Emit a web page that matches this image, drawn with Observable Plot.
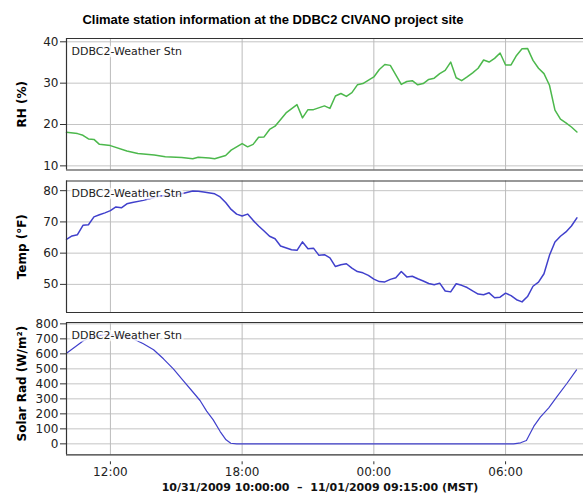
<!DOCTYPE html>
<html><head><meta charset="utf-8">
<script src="https://cdn.jsdelivr.net/npm/d3@7"></script>
<script src="https://cdn.jsdelivr.net/npm/@observablehq/plot@0.6"></script>
<style>
body{margin:0;background:#fff;}
#wrap{position:relative;width:583px;height:493px;overflow:hidden;font-family:"DejaVu Sans",sans-serif;}
#title{position:absolute;top:12px;left:0;width:546px;text-align:center;font:bold 13px "Liberation Sans",Arial,sans-serif;color:#000;line-height:15px;}
.panel{position:absolute;left:0;}
#xlabel{position:absolute;top:481px;left:40px;width:560px;text-align:center;font:bold 11px "DejaVu Sans",sans-serif;color:#111;line-height:13px;white-space:pre;}
</style></head><body>
<div id="wrap">
<div id="title">Climate station information at the DDBC2 CIVANO project site</div>
<div id="p1" class="panel" style="top:30px"></div>
<div id="p2" class="panel" style="top:175px"></div>
<div id="p3" class="panel" style="top:317px"></div>
<div id="xlabel">10/31/2009 10:00:00  –  11/01/2009 09:15:00 (MST)</div>
</div>
<script>
const stationLabel = "DDBC2-Weather Stn";
const xTickLabels = ["12:00", "18:00", "00:00", "06:00"];

const rhTimes = ["10:00","10:30","10:45","11:00","11:15","11:30","12:00","12:45","13:15","14:00","14:30","15:15","15:45","16:00","16:30","16:45","17:15","17:30","18:00","18:15","18:30","18:45","19:00","19:15","19:30","20:00","20:30","20:45","21:00","21:15","21:45","22:00","22:15","22:30","22:45","23:00","23:15","23:30","00:00","00:15","00:30","00:45","01:15","01:30","01:45","02:00","02:15","02:30","02:45","03:00","03:15","03:30","03:45","04:00","04:15","04:30","04:45","05:00","05:15","05:30","05:45","06:00","06:15","06:30","06:45","07:00","07:15","07:30","07:45","08:00","08:15","08:30","08:45","09:00","09:15"];
const rhValues = [18.1,17.8,17.4,16.5,16.4,15.2,14.9,13.6,13.0,12.6,12.2,12.0,11.7,12.1,11.9,11.7,12.5,13.8,15.4,14.6,15.2,16.9,17.0,18.8,19.6,22.8,24.8,21.6,23.6,23.6,24.5,23.9,26.9,27.5,26.8,27.7,29.6,29.9,31.5,33.3,34.5,34.3,29.7,30.4,30.6,29.6,29.9,30.9,31.2,32.3,33.1,35.1,31.3,30.6,31.5,32.5,33.6,35.6,35.1,36.0,37.3,34.4,34.4,36.7,38.3,38.4,35.5,33.6,32.3,29.5,23.5,21.3,20.4,19.4,18.2];

const tempTimes = ["10:00","10:15","10:30","10:45","11:00","11:15","11:30","11:45","12:00","12:15","12:30","12:45","13:00","13:30","14:00","14:15","14:45","15:15","15:45","16:00","16:15","16:45","17:00","17:15","17:30","17:45","18:00","18:15","18:30","18:45","19:00","19:15","19:30","19:45","20:15","20:30","20:45","21:00","21:15","21:30","21:45","22:00","22:15","22:30","22:45","23:00","23:15","23:30","23:45","00:00","00:15","00:30","00:45","01:00","01:15","01:30","01:45","02:00","02:15","02:30","02:45","03:00","03:15","03:30","03:45","04:00","04:15","04:30","04:45","05:00","05:15","05:30","05:45","06:00","06:15","06:30","06:45","07:00","07:15","07:30","07:45","08:00","08:15","08:30","08:45","09:00","09:15"];
const tempValues = [64.4,65.5,65.9,68.9,69.1,71.6,72.3,72.9,73.6,74.8,74.5,75.8,76.2,76.9,77.8,78.3,78.5,79.0,79.9,79.8,79.6,79.0,78.0,76.2,74.0,72.5,71.9,72.5,70.5,68.7,67.1,65.4,64.6,62.3,61.1,60.9,63.6,61.4,61.6,59.3,59.5,58.5,55.7,56.3,56.6,55.2,54.1,53.7,52.9,51.7,50.9,50.8,51.6,52.1,54.1,52.4,52.6,51.8,51.1,50.3,49.9,50.4,47.9,47.6,50.2,49.7,49.0,47.9,46.9,46.7,47.3,45.7,45.9,47.2,46.4,45.1,44.4,46.1,49.4,50.7,53.4,59.3,63.6,65.4,66.8,68.7,71.3];

const solarTimes = ["10:00","10:25","10:47","11:14","11:42","12:09","12:36","13:03","13:30","13:58","14:25","14:52","15:19","15:46","16:05","16:23","16:41","17:00","17:16","17:29","17:45","06:22","06:41","06:57","07:17","07:35","07:58","08:21","08:48","09:14"];
const solarValues = [604,649,689,716,727,729,722,700,667,627,567,500,422,344,289,218,160,82,27,4,0,0,7,22,116,178,240,316,404,493];

const rhTicks = [10, 20, 30, 40];
const tempTicks = [50, 60, 70, 80];
const solarTicks = [0, 100, 200, 300, 400, 500, 600, 700, 800];

// "HH:MM" -> UTC date; times before 10:00 belong to 11/01/2009
function toDate(s) {
  const [h, m] = s.split(":").map(Number);
  return new Date(Date.UTC(2009, 9, h < 10 ? 32 : 31, h, m));
}
const xDomain = [toDate("10:00"), toDate("09:33")];
const xTicks = xTickLabels.map(toDate);
const fmt = d3.utcFormat("%H:%M");

function panel({el, times, values, color, sw, domain, ticks, label, labelDy, height, mt, mb, xAxis}) {
  const data = times.map((t, i) => ({t: toDate(t), v: values[i]}));
  const chart = Plot.plot({
    width: 583, height, marginLeft: 66, marginRight: 0, marginTop: mt, marginBottom: mb,
    style: {fontFamily: "DejaVu Sans, sans-serif", fontSize: "12px", color: "#222", background: "transparent", overflow: "visible"},
    x: {type: "utc", domain: xDomain, axis: null},
    y: {domain, axis: null},
    marks: [
      Plot.gridY(ticks, {stroke: "#c4c4c4", strokeOpacity: 1}),
      Plot.gridX(xTicks, {stroke: "#bbbbbb", strokeOpacity: 1}),
      Plot.line(data, {x: "t", y: "v", stroke: color, strokeWidth: sw}),
      Plot.text([stationLabel], {frameAnchor: "top-left", dx: 5, dy: 12.5, textAnchor: "start", lineAnchor: "middle", fontSize: 11, fill: "#222", stroke: "white", strokeWidth: 5, strokeOpacity: 0.75}),
      Plot.axisY(ticks, {tickSize: 6, tickPadding: 2, label: null, fontSize: 12, stroke: "#333", fill: "#222"}),
      Plot.text([label], {frameAnchor: "left", dx: -44, dy: labelDy, rotate: -90, textAnchor: "middle", lineAnchor: "middle", fontWeight: "bold", fontSize: 12, fill: "#000"}),
      xAxis ? Plot.axisX(xTicks, {tickSize: 3, dy: 7, tickPadding: 3, tickFormat: fmt, label: null, fontSize: 12, stroke: "#333", fill: "#222"}) : null,
      Plot.ruleX([xDomain[0]], {stroke: "#333", strokeWidth: 1.2}),
      Plot.ruleY(domain, {stroke: "#333", strokeWidth: 1.2})
    ]
  });
  document.getElementById(el).appendChild(chart);
}

panel({el: "p1", times: rhTimes, values: rhValues, color: "#4cb84c", sw: 1.5, domain: [9.0, 40.8], ticks: rhTicks, label: "RH (%)", labelDy: 0, height: 145, mt: 8, mb: 5.5, xAxis: false});
panel({el: "p2", times: tempTimes, values: tempValues, color: "#4040cc", sw: 1.5, domain: [41.0, 83.1], ticks: tempTicks, label: "Temp (°F)", labelDy: 0, height: 142, mt: 5.5, mb: 5, xAxis: false});
panel({el: "p3", times: solarTimes, values: solarValues, color: "#4040cc", sw: 1.2, domain: [-73, 809], ticks: solarTicks, label: "Solar Rad (W/m²)", labelDy: -5, height: 176, mt: 5, mb: 38.7, xAxis: true});
</script>
</body></html>
